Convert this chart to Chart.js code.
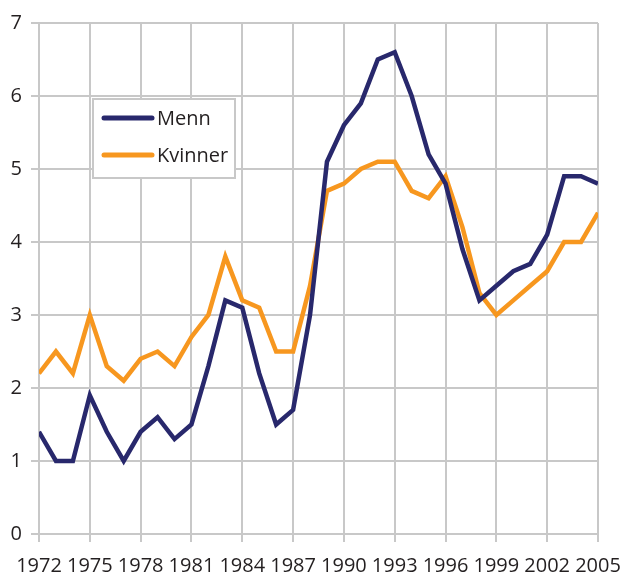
<!DOCTYPE html>
<html>
<head>
<meta charset="utf-8">
<script src="https://cdn.jsdelivr.net/npm/chart.js@4"></script>
<style>
  html, body { margin: 0; padding: 0; background: #fff; }
  #wrap { width: 624px; height: 576px; position: relative; }
</style>
</head>
<body>
<div id="wrap"><canvas id="c" width="624" height="576"></canvas></div>
<script>
const years = [1972,1973,1974,1975,1976,1977,1978,1979,1980,1981,1982,1983,1984,1985,1986,1987,1988,1989,1990,1991,1992,1993,1994,1995,1996,1997,1998,1999,2000,2001,2002,2003,2004,2005];
const menn = [1.4,1.0,1.0,1.9,1.4,1.0,1.4,1.6,1.3,1.5,2.3,3.2,3.1,2.2,1.5,1.7,3.0,5.1,5.6,5.9,6.5,6.6,6.0,5.2,4.8,3.9,3.2,3.4,3.6,3.7,4.1,4.9,4.9,4.8];
const kvinner = [2.2,2.5,2.2,3.0,2.3,2.1,2.4,2.5,2.3,2.7,3.0,3.8,3.2,3.1,2.5,2.5,3.4,4.7,4.8,5.0,5.1,5.1,4.7,4.6,4.9,4.2,3.3,3.0,3.2,3.4,3.6,4.0,4.0,4.4];
const seriesNames = ['Menn', 'Kvinner'];
const seriesColors = ['#28286c', '#f7971f'];

const FONT = "'Open Sans', 'Noto Sans', sans-serif";
const GRID = '#c8c8c8';
const TEXT = '#231f20';

const legendPlugin = {
  id: 'boxLegend',
  afterDraw(chart) {
    const ctx = chart.ctx;
    const a = chart.chartArea;
    const x0 = a.left + 54, y0 = a.top + 76, w = 142, h = 79;
    ctx.save();
    ctx.fillStyle = '#fff';
    ctx.fillRect(x0, y0, w, h);
    ctx.strokeStyle = GRID;
    ctx.lineWidth = 2;
    ctx.strokeRect(x0, y0, w, h);
    ctx.font = '20px ' + FONT;
    ctx.textBaseline = 'middle';
    chart.data.datasets.forEach((ds, i) => {
      const cy = y0 + 19 + i * 37;
      ctx.strokeStyle = ds.borderColor;
      ctx.lineWidth = 5;
      ctx.lineCap = 'round';
      ctx.beginPath();
      ctx.moveTo(x0 + 11, cy);
      ctx.lineTo(x0 + 59, cy);
      ctx.stroke();
      ctx.fillStyle = TEXT;
      ctx.fillText(ds.label, x0 + 64, cy + 1);
    });
    ctx.restore();
  }
};

new Chart(document.getElementById('c'), {
  type: 'line',
  data: {
    datasets: [
      { label: seriesNames[0], data: years.map((y, i) => ({ x: y, y: menn[i] })), borderColor: seriesColors[0], backgroundColor: seriesColors[0], borderWidth: 4.5, pointRadius: 0, tension: 0 },
      { label: seriesNames[1], data: years.map((y, i) => ({ x: y, y: kvinner[i] })), borderColor: seriesColors[1], backgroundColor: seriesColors[1], borderWidth: 4.5, pointRadius: 0, tension: 0 }
    ]
  },
  options: {
    responsive: false,
    animation: false,
    layout: { padding: { top: 23, right: 26, left: 0, bottom: 0 } },
    plugins: { legend: { display: false }, tooltip: { enabled: false } },
    scales: {
      x: {
        type: 'linear', min: 1972, max: 2005,
        ticks: { stepSize: 3, callback: v => String(v), font: { size: 20, family: FONT }, color: TEXT, padding: 12, maxRotation: 0, autoSkip: false },
        grid: { color: GRID, lineWidth: 2, tickLength: 8 },
        border: { color: GRID, width: 2 },
        afterFit: s => { s.height = 42; s.paddingLeft = 0; s.paddingRight = 0; }
      },
      y: {
        min: 0, max: 7,
        ticks: { stepSize: 1, font: { size: 20, family: FONT }, color: TEXT, padding: 9 },
        grid: { color: GRID, lineWidth: 2, tickLength: 8 },
        border: { color: GRID, width: 2 },
        afterFit: s => { s.width = 39; s.paddingTop = 0; s.paddingBottom = 0; }
      }
    }
  },
  plugins: [legendPlugin]
});
</script>
</body>
</html>
